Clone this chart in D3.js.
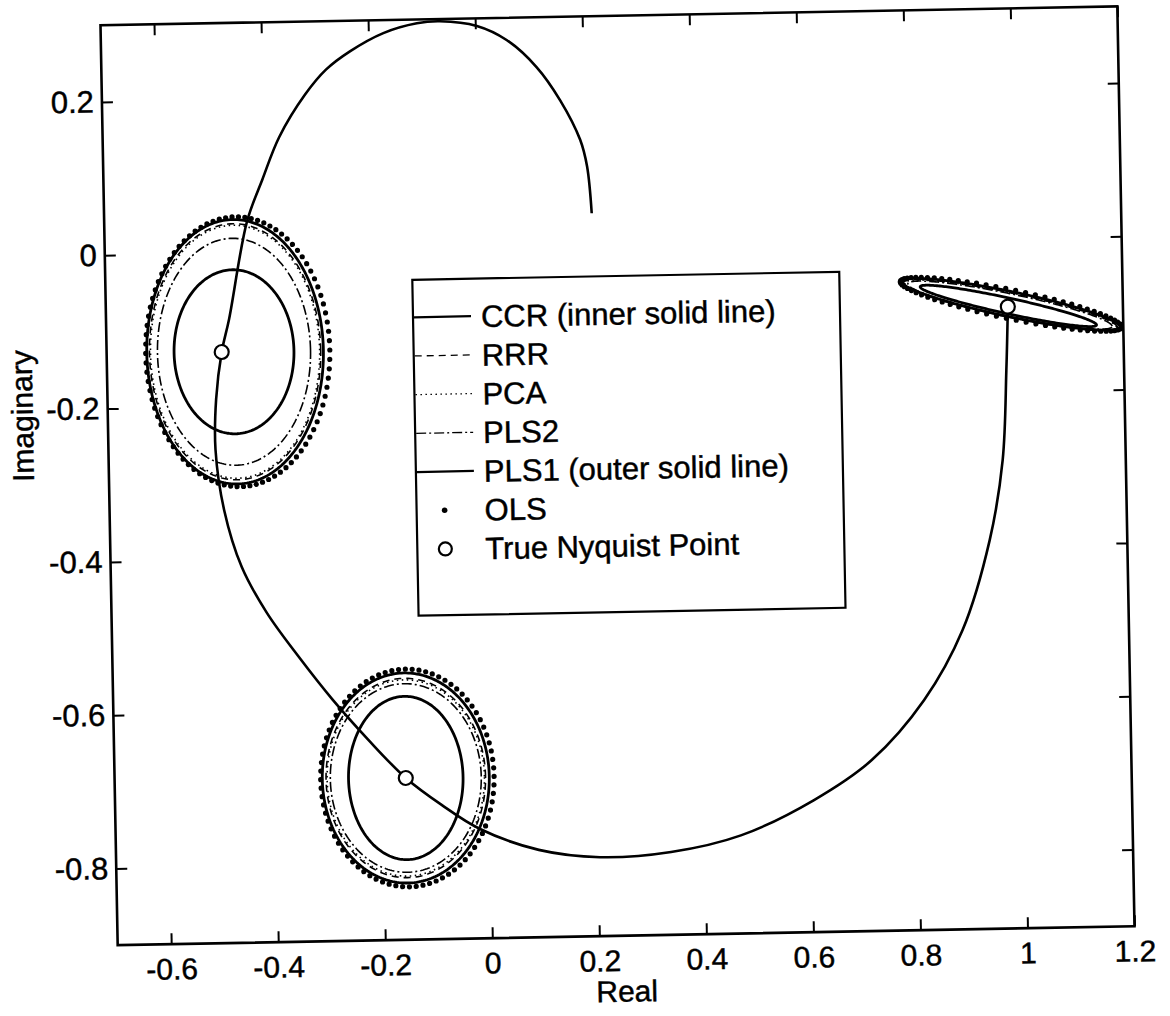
<!DOCTYPE html>
<html>
<head>
<meta charset="utf-8">
<script src="https://cdn.jsdelivr.net/npm/d3@7"></script>
<style>
  html, body { margin: 0; padding: 0; background: #fff; }
  svg { display: block; }
  text { font-family: "Liberation Sans", Arial, Helvetica, sans-serif; fill: #000; }
</style>
</head>
<body>
<svg id="chart" width="1170" height="1016"></svg>
<script>
// ---- axis ticks ----
const xTicks = [-0.6, -0.4, -0.2, 0, 0.2, 0.4, 0.6, 0.8, 1, 1.2];
const xTickLabels = ["-0.6", "-0.4", "-0.2", "0", "0.2", "0.4", "0.6", "0.8", "1", "1.2"];
const yTicks = [-0.8, -0.6, -0.4, -0.2, 0, 0.2];
const yTickLabels = ["-0.8", "-0.6", "-0.4", "-0.2", "0", "0.2"];

// ---- true Nyquist curve (real / imaginary parts) ----
const curveRe = [0.985, 0.980, 0.970, 0.943, 0.889, 0.815, 0.715, 0.605, 0.468, 0.337,
                 0.204, 0.090, -0.020, -0.090, -0.156, -0.225, -0.290, -0.350, -0.410, -0.455,
                 -0.486, -0.500, -0.497, -0.485, -0.470, -0.433, -0.403, -0.370, -0.320, -0.280,
                 -0.235, -0.172, -0.109, -0.066, 0.003, 0.058, 0.113, 0.156, 0.192, 0.204, 0.211];
const curveIm = [-0.089, -0.172, -0.289, -0.393, -0.510, -0.600, -0.677, -0.728, -0.772, -0.792,
                 -0.797, -0.786, -0.757, -0.725, -0.689, -0.638, -0.585, -0.530, -0.470, -0.410,
                 -0.335, -0.256, -0.190, -0.129, -0.086, 0.041, 0.095, 0.150, 0.205, 0.237,
                 0.260, 0.283, 0.295, 0.297, 0.290, 0.271, 0.235, 0.191, 0.139, 0.104, 0.043];

// ---- true Nyquist points at the three test frequencies ----
const trueRe = [-0.485, -0.156, 0.985];
const trueIm = [-0.129, -0.689, -0.089];

// ---- uncertainty ellipses, one row per test frequency ----
// [centre re, centre im, semi-diameter 1 (re, im), semi-diameter 2 (re, im)]
const ellipseCCR  = [[-0.462, -0.129, 0.112, 0, 0, 0.107],
                     [-0.156, -0.689, 0.107, 0, 0, 0.1065],
                     [ 0.986, -0.088, 0.164, -0.027, 0, 0.0105]];
const ellipseRRR  = [[-0.460, -0.129, 0.160, 0, 0, 0.167],
                     [-0.156, -0.689, 0.149, 0, 0, 0.130],
                     [ 0.990, -0.087, 0.199, -0.0315, 0, 0.0162]];
const ellipsePCA  = [[-0.460, -0.129, 0.158, 0, 0, 0.165],
                     [-0.156, -0.689, 0.147, 0, 0, 0.128],
                     [ 0.990, -0.087, 0.197, -0.031, 0, 0.0160]];
const ellipsePLS2 = [[-0.462, -0.129, 0.143, 0, 0, 0.148],
                     [-0.156, -0.689, 0.141, 0, 0, 0.123],
                     [ 0.989, -0.087, 0.190, -0.030, 0, 0.0150]];
const ellipsePLS1 = [[-0.460, -0.129, 0.165, 0, 0, 0.1725],
                     [-0.156, -0.689, 0.156, 0, 0, 0.137],
                     [ 0.991, -0.086, 0.203, -0.032, 0, 0.0168]];
const ellipseOLS  = [[-0.455, -0.129, 0.172, 0, 0, 0.176],
                     [-0.153, -0.689, 0.162, 0, 0, 0.142],
                     [ 0.991, -0.086, 0.206, -0.032, 0, 0.0195]];
const olsPointCount = [90, 80, 70];

const legendLabels = ["CCR (inner solid line)", "RRR", "PCA", "PLS2",
                      "PLS1 (outer solid line)", "OLS", "True Nyquist Point"];

// ---- layout ----
const W = 1170, H = 1016;
const box = { left: 109, top: 15.75, right: 1126, bottom: 935.75 };
const tilt = -1.07;                       // slight counter-clockwise tilt of the whole figure
const pivot = [617.5, 475.75];
const inkStroke = 0.45;                   // heavier text, as in the printed figure

const x = d3.scaleLinear().domain([-0.7, 1.2]).range([box.left, box.right]);
const y = d3.scaleLinear().domain([-0.9, 0.3]).range([box.bottom, box.top]);

const svg = d3.select("#chart");
svg.append("rect").attr("width", W).attr("height", H).attr("fill", "#fff");

const root = svg.append("g")
  .attr("transform", `rotate(${tilt},${pivot[0]},${pivot[1]})`);

root.append("clipPath").attr("id", "plotClip")
  .append("rect")
  .attr("x", box.left).attr("y", box.top - 2)
  .attr("width", box.right - box.left).attr("height", box.bottom - box.top + 2);

const plot = root.append("g").attr("clip-path", "url(#plotClip)");

// ellipse outline from centre and two conjugate semi-diameters
function ellipseOutline(e, n) {
  const [cx, cy, ax, ay, bx, by] = e;
  return d3.range(n).map(i => {
    const t = 2 * Math.PI * i / n;
    return [cx + ax * Math.cos(t) + bx * Math.sin(t),
            cy + ay * Math.cos(t) + by * Math.sin(t)];
  });
}

const closedLine = d3.line()
  .x(d => x(d[0])).y(d => y(d[1]))
  .curve(d3.curveLinearClosed);

const methodStyle = {
  PLS1: { data: ellipsePLS1, width: 2.8, dash: null },
  RRR:  { data: ellipseRRR,  width: 1.6, dash: "7,5" },
  PCA:  { data: ellipsePCA,  width: 1.6, dash: "1.5,3.5" },
  PLS2: { data: ellipsePLS2, width: 1.6, dash: "10,3,2,3" },
  CCR:  { data: ellipseCCR,  width: 2.8, dash: null }
};

Object.entries(methodStyle).forEach(([name, st]) => {
  plot.append("g").attr("class", "ellipses-" + name)
    .selectAll("path")
    .data(st.data)
    .join("path")
    .attr("d", e => closedLine(ellipseOutline(e, 240)))
    .attr("fill", "none")
    .attr("stroke", "#000")
    .attr("stroke-width", st.width)
    .attr("stroke-dasharray", st.dash);
});

// OLS estimates drawn as dots round each frequency
const olsDots = ellipseOLS.flatMap((e, k) => ellipseOutline(e, olsPointCount[k]));
plot.append("g").attr("class", "ols")
  .selectAll("circle")
  .data(olsDots)
  .join("circle")
  .attr("cx", d => x(d[0]))
  .attr("cy", d => y(d[1]))
  .attr("r", 2.6)
  .attr("fill", "#000");

// true Nyquist curve
const curvePts = curveRe.map((re, i) => [re, curveIm[i]]);
plot.append("path")
  .datum(curvePts)
  .attr("d", d3.line().x(d => x(d[0])).y(d => y(d[1])).curve(d3.curveCatmullRom.alpha(0.5)))
  .attr("fill", "none")
  .attr("stroke", "#000")
  .attr("stroke-width", 2.6)
  .attr("stroke-linejoin", "round");

// true Nyquist points
plot.append("g").attr("class", "true-points")
  .selectAll("circle")
  .data(trueRe.map((re, i) => [re, trueIm[i]]))
  .join("circle")
  .attr("cx", d => x(d[0]))
  .attr("cy", d => y(d[1]))
  .attr("r", 7)
  .attr("fill", "#fff")
  .attr("stroke", "#000")
  .attr("stroke-width", 2.2);

// ---- axes ----
const tickLen = 11;
function styleAxis(fontPx) {
  return sel => {
    sel.select(".domain").remove();
    sel.selectAll(".tick line").attr("stroke", "#000").attr("stroke-width", 2);
    sel.selectAll(".tick text").attr("fill", "#000")
      .attr("stroke", "#000").attr("stroke-width", inkStroke)
      .style("font-family", '"Liberation Sans", Arial, sans-serif')
      .style("font-size", fontPx + "px");
  };
}

root.append("g")
  .attr("transform", `translate(0,${box.bottom})`)
  .call(d3.axisBottom(x).tickValues(xTicks).tickFormat((d, i) => xTickLabels[i])
        .tickSizeInner(-tickLen).tickSizeOuter(0).tickPadding(14))
  .call(styleAxis(30));

root.append("g")
  .attr("transform", `translate(0,${box.top})`)
  .call(d3.axisTop(x).tickValues(xTicks).tickFormat("")
        .tickSizeInner(-tickLen).tickSizeOuter(0))
  .call(styleAxis(30));

root.append("g")
  .attr("transform", `translate(${box.left},0)`)
  .call(d3.axisLeft(y).tickValues(yTicks).tickFormat((d, i) => yTickLabels[i])
        .tickSizeInner(-tickLen).tickSizeOuter(0).tickPadding(8))
  .call(styleAxis(31));

root.append("g")
  .attr("transform", `translate(${box.right},0)`)
  .call(d3.axisRight(y).tickValues(yTicks).tickFormat("")
        .tickSizeInner(-tickLen).tickSizeOuter(0))
  .call(styleAxis(31));

// frame
root.append("rect")
  .attr("x", box.left).attr("y", box.top)
  .attr("width", box.right - box.left).attr("height", box.bottom - box.top)
  .attr("fill", "none").attr("stroke", "#000").attr("stroke-width", 2.6);

// axis titles
root.append("text")
  .attr("x", (box.left + box.right) / 2).attr("y", box.bottom + 66)
  .attr("text-anchor", "middle")
  .attr("stroke", "#000").attr("stroke-width", inkStroke)
  .style("font-size", "30px")
  .text("Real");

root.append("text")
  .attr("transform", `translate(34,405) rotate(-90)`)
  .attr("text-anchor", "middle")
  .attr("stroke", "#000").attr("stroke-width", inkStroke)
  .style("font-size", "30px")
  .text("Imaginary");

// ---- legend ----
const lg = { left: 416, top: 276, right: 843, bottom: 612, row0: 313.5, step: 38.7,
             lineX0: 417, lineX1: 474, markX: 444, textX: 484 };
const legend = root.append("g").attr("class", "legend");
legend.append("rect")
  .attr("x", lg.left).attr("y", lg.top)
  .attr("width", lg.right - lg.left).attr("height", lg.bottom - lg.top)
  .attr("fill", "#fff").attr("stroke", "#000").attr("stroke-width", 2.2);

const legendKeys = ["CCR", "RRR", "PCA", "PLS2", "PLS1", "OLS", "TRUE"];
legendKeys.forEach((key, i) => {
  const ry = lg.row0 + i * lg.step;
  if (methodStyle[key]) {
    legend.append("line")
      .attr("x1", lg.lineX0).attr("x2", lg.lineX1)
      .attr("y1", ry).attr("y2", ry)
      .attr("stroke", "#000")
      .attr("stroke-width", methodStyle[key].width * 0.8)
      .attr("stroke-dasharray", methodStyle[key].dash);
  } else if (key === "OLS") {
    legend.append("circle").attr("cx", lg.markX).attr("cy", ry)
      .attr("r", 2.8).attr("fill", "#000");
  } else {
    legend.append("circle").attr("cx", lg.markX).attr("cy", ry)
      .attr("r", 6.5).attr("fill", "none").attr("stroke", "#000").attr("stroke-width", 2.2);
  }
  legend.append("text")
    .attr("x", lg.textX).attr("y", ry + 11)
    .attr("stroke", "#000").attr("stroke-width", inkStroke)
    .style("font-size", "31px")
    .text(legendLabels[i]);
});
</script>
</body>
</html>
